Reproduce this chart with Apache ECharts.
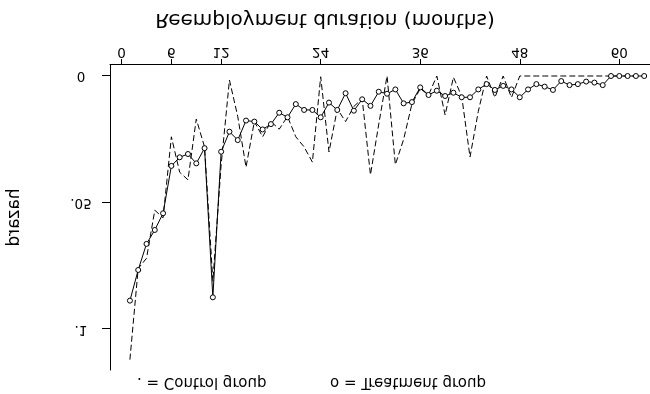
<!DOCTYPE html>
<html>
<head>
<meta charset="utf-8">
<script src="https://cdn.jsdelivr.net/npm/echarts@6.0.0/dist/echarts.min.js"></script>
<style>
html,body{margin:0;padding:0;background:#fff;}
#chart{width:650px;height:394px;transform:scaleY(-1);}
</style>
</head>
<body>
<div id="chart"></div>
<script>
var months = [1,2,3,4,5,6,7,8,9,10,11,12,13,14,15,16,17,18,19,20,21,22,23,24,25,26,27,28,29,30,31,32,33,34,35,36,37,38,39,40,41,42,43,44,45,46,47,48,49,50,51,52,53,54,55,56,57,58,59,60,61,62,63];
var treatment = [0.0887,0.0766,0.0663,0.0608,0.0542,0.0355,0.0321,0.0308,0.0345,0.0285,
  0.0874,0.0299,0.0220,0.0253,0.0176,0.0180,0.0211,0.0190,0.0145,0.0163,
  0.0111,0.0134,0.0134,0.0163,0.0105,0.0134,0.0068,0.0137,0.0092,0.0118,
  0.0062,0.0070,0.0053,0.0108,0.0103,0.0045,0.0075,0.0058,0.0079,0.0066,
  0.0084,0.0084,0.0053,0.0032,0.0055,0.0039,0.0053,0.0084,0.0053,0.0032,
  0.0042,0.0055,0.0020,0.0036,0.0032,0.0022,0.0026,0.0036,0,0,
  0,0,0];
var control = [0.112,0.076,0.072,0.053,0.056,0.024,0.038,0.041,0.017,0.028,
  0.081,0.035,0.0016,0.016,0.036,0.018,0.024,0.018,0.021,0.016,
  0.024,0.028,0.034,0.0003,0.030,0.013,0.018,0.012,0.009,0.039,
  0.019,0,0.035,0.025,0.011,0.005,0.0075,0,0.0154,0.0005,
  0.008,0.032,0.014,0,0.0085,0,0.0085,0,0,0,
  0,0,0,0,0,0,0,0,0,0,
  0,0,0];
var xTicks = [0,6,12,24,36,48,60];
var yTicks = [0,0.05,0.1];
var yTickLabels = ['0','.05','.1'];
var xTitle = 'Reemployment duration (months)';
var yTitle = 'hazard';
var legendControl = '. = Control group';
var legendTreatment = 'o = Treatment group';

function pairs(ys){ return months.map(function(m,i){ return [m, ys[i]]; }); }
var F = 'DejaVu Sans';
var chart = echarts.init(document.getElementById('chart'), null, {renderer:'canvas'});
chart.setOption({
  animation:false,
  backgroundColor:'#fff',
  grid:{left:110, right:0, top:24, bottom:65, outerBoundsMode:'none', containLabel:false},
  xAxis:{
    type:'value', min:-1.4, max:63.7, position:'bottom',
    axisLine:{show:true, onZero:false, lineStyle:{color:'#000', width:1}},
    axisTick:{show:true, length:6, customValues:xTicks, lineStyle:{color:'#000'}},
    axisLabel:{show:true, customValues:xTicks, margin:6, fontFamily:F, fontSize:13.5, color:'#000'},
    splitLine:{show:false}
  },
  yAxis:{
    type:'value', min:-0.00434, max:0.1161,
    name:yTitle, nameLocation:'middle', nameGap:87, nameRotate:90,
    nameTextStyle:{fontFamily:F, fontSize:17, color:'#000'},
    axisLine:{show:true, onZero:false, lineStyle:{color:'#000', width:1}},
    axisTick:{show:true, length:8, customValues:yTicks, lineStyle:{color:'#000'}},
    axisLabel:{show:true, customValues:yTicks, margin:29, align:'center', fontFamily:F, fontSize:13.5, color:'#000',
      formatter:function(v){ var i = yTicks.indexOf(v); return i>=0 ? yTickLabels[i] : ''; }},
    splitLine:{show:false}
  },
  graphic:[
    {type:'text', x:325, y:375, style:{text:xTitle, fontFamily:F, fontSize:20, fill:'#000', align:'center', verticalAlign:'middle'}},
    {type:'text', left:137, top:5, style:{text:legendControl, fontFamily:F, fontSize:15, fill:'#000'}},
    {type:'text', left:330, top:5, style:{text:legendTreatment, fontFamily:F, fontSize:15, fill:'#000'}}
  ],
  series:[
    {name:'Control group', type:'line', data:pairs(control), symbol:'none',
      lineStyle:{color:'#000', width:1, type:[6,3]}, z:2},
    {name:'Treatment group', type:'line', data:pairs(treatment), symbol:'circle', symbolSize:5,
      itemStyle:{color:'#fff', borderColor:'#000', borderWidth:1},
      lineStyle:{color:'#000', width:1}, z:3}
  ]
});
</script>
</body>
</html>
